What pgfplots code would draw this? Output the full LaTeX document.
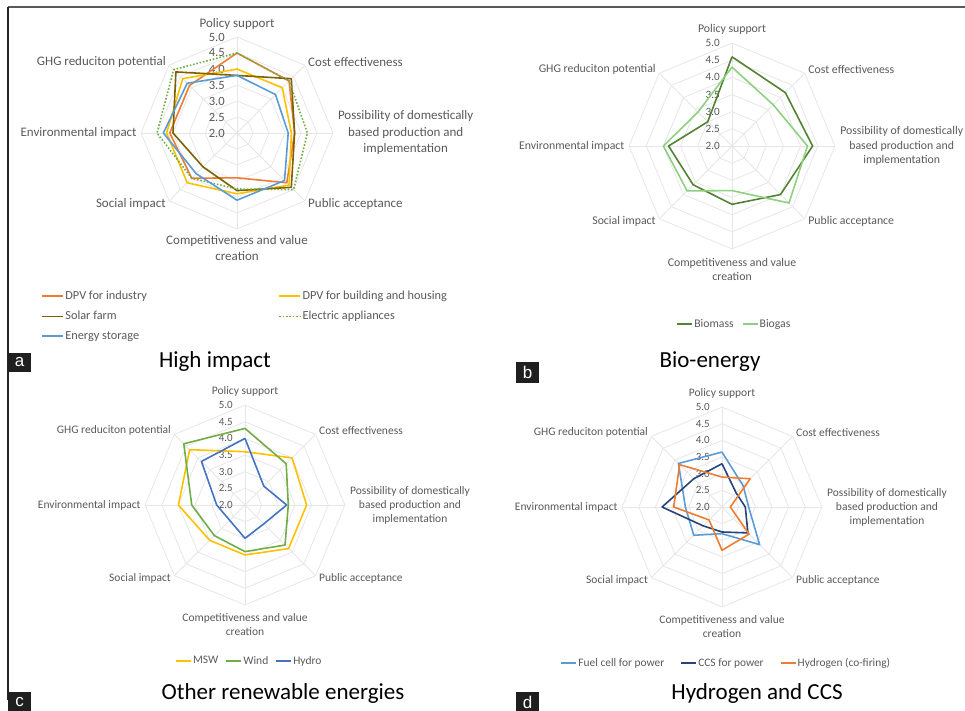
\documentclass[border=0pt]{standalone}
\usepackage{pgfplots}
\pgfplotsset{compat=1.18}
\usepackage{pgfplotstable}
\usepackage{fontspec}
\setmainfont{Carlito}
\newfontfamily\tagfont{Liberation Sans}

\definecolor{gridc}{HTML}{E6E6E6}
\definecolor{labc}{HTML}{595959}
\definecolor{cOrange}{HTML}{ED7D31}
\definecolor{cGold}{HTML}{FFC000}
\definecolor{cBrown}{HTML}{7F6000}
\definecolor{cGreen}{HTML}{70AD47}
\definecolor{cSky}{HTML}{5B9BD5}
\definecolor{cDkGreen}{HTML}{548235}
\definecolor{cLtGreen}{HTML}{8ED081}
\definecolor{cBlue}{HTML}{4472C4}
\definecolor{cNavy}{HTML}{264478}

% Scores on a 2.0--5.0 scale; angle 90 = Policy support, then clockwise
\pgfplotstableread{
ang   ind  bld  sol  app  sto
90    4.5  4.0  3.8  4.5  3.8
45    4.3  4.0  4.4  4.3  3.7
0     3.8  3.7  3.8  4.2  3.6
-45   4.2  4.3  4.4  4.5  4.1
-90   3.4  3.9  3.8  3.75 4.1
-135  4.0  4.2  3.5  4.0  3.8
-180  4.1  4.2  4.0  4.5  4.3
-225  4.1  4.4  4.7  4.8  4.2
-270  4.5  4.0  3.8  4.5  3.8
}\highimpact

\pgfplotstableread{
ang   bm   bg
90    4.6  4.3
45    4.2  3.7
0     4.35 4.2
-45   4.0  4.35
-90   3.7  3.3
-135  3.6  3.85
-180  3.85 4.0
-225  3.0  3.4
-270  4.6  4.3
}\bioenergy

\pgfplotstableread{
ang   msw  wind hydro
90    3.6  4.3  4.0
45    4.0  3.75 2.8
0     3.85 3.3  3.25
-45   3.85 3.7  2.8
-90   3.5  3.4  3.0
-135  3.5  3.3  2.65
-180  4.0  3.6  2.85
-225  4.35 4.6  3.85
-270  3.6  4.3  4.0
}\otherren

\pgfplotstableread{
ang   fc   ccs  hy
90    3.65 3.3  2.9
45    2.9  2.6  3.2
0     2.8  2.7  2.25
-45   3.6  3.1  3.15
-90   2.8  2.75 3.3
-135  3.2  2.8  2.55
-180  3.1  3.8  3.45
-225  3.85 3.2  3.8
-270  3.65 3.3  2.9
}\hydrogen

% spoke directions of the radar (unit radius)
\pgfplotstableread{
ang   unit
90    1
45    1
0     1
-45   1
-90   1
-135  1
-180  1
-225  1
-270  1
}\octagon

% radius 0 is the 2.0 ring; each series is mapped from (angle, score)
\pgfplotsset{
  radar/.style={anchor=center, hide axis, clip=false,
    xmin=-3, xmax=3, ymin=-3, ymax=3,
    legend cell align=left},
  gridline/.style={draw=gridc, line width=0.8pt, forget plot, mark=none},
  series/.style={line width=1.6pt, mark=none, line join=round},
}
\tikzset{
  ticklab/.style={anchor=east, inner sep=0pt, xshift=-12pt, text=labc},
  catlab/.style={inner sep=0pt, text=labc, align=center},
}
% plot column #3 of table #2 as a closed radar polygon
\newcommand{\radarplot}[3][]{%
  \addplot[series, #1] table[x expr={(\thisrow{#3}-2)*cos(\thisrow{ang})}, y expr={(\thisrow{#3}-2)*sin(\thisrow{ang})}] {#2};}

% radar grid, tick labels and category labels
% #1 label size, #2 label baselineskip, #3 tick label size
\newcommand{\radarbase}[3]{%
  \pgfplotsinvokeforeach{0.5,1,1.5,2,2.5,3}{%
    \addplot[gridline] table[x expr={##1*\thisrow{unit}*cos(\thisrow{ang})}, y expr={##1*\thisrow{unit}*sin(\thisrow{ang})}] {\octagon};}
  \addplot[gridline] coordinates {(0,3) (0,-3)};
  \addplot[gridline] coordinates {(-3,0) (3,0)};
  \addplot[gridline] coordinates {(-2.1213,-2.1213) (2.1213,2.1213)};
  \addplot[gridline] coordinates {(-2.1213,2.1213) (2.1213,-2.1213)};
  \node[ticklab, font=\fontsize{#3}{#3}\selectfont] at (axis cs:0,0) {2.0};
  \node[ticklab, font=\fontsize{#3}{#3}\selectfont] at (axis cs:0,0.5) {2.5};
  \node[ticklab, font=\fontsize{#3}{#3}\selectfont] at (axis cs:0,1) {3.0};
  \node[ticklab, font=\fontsize{#3}{#3}\selectfont] at (axis cs:0,1.5) {3.5};
  \node[ticklab, font=\fontsize{#3}{#3}\selectfont] at (axis cs:0,2) {4.0};
  \node[ticklab, font=\fontsize{#3}{#3}\selectfont] at (axis cs:0,2.5) {4.5};
  \node[ticklab, font=\fontsize{#3}{#3}\selectfont] at (axis cs:0,3) {5.0};
  \node[catlab, font=\fontsize{#1}{#2}\selectfont] at (axis cs:0,3.4) {Policy support};
  \node[catlab, anchor=west, font=\fontsize{#1}{#2}\selectfont] at (axis cs:2.22,2.23) {Cost effectiveness};
  \node[catlab, anchor=west, font=\fontsize{#1}{#2}\selectfont] at (axis cs:3.15,0) {Possibility of domestically\\based production and\\implementation};
  \node[catlab, anchor=west, font=\fontsize{#1}{#2}\selectfont] at (axis cs:2.22,-2.21) {Public acceptance};
  \node[catlab, font=\fontsize{#1}{#2}\selectfont] at (axis cs:0,-3.6) {Competitiveness and value\\creation};
  \node[catlab, anchor=east, font=\fontsize{#1}{#2}\selectfont] at (axis cs:-2.22,-2.21) {Social impact};
  \node[catlab, anchor=east, font=\fontsize{#1}{#2}\selectfont] at (axis cs:-3.13,0) {Environmental impact};
  \node[catlab, anchor=east, font=\fontsize{#1}{#2}\selectfont] at (axis cs:-2.22,2.23) {GHG reduciton potential};
}

\begin{document}
\begin{tikzpicture}[x=1pt,y=1pt]
\path[use as bounding box] (0pt,0pt) rectangle (965pt,-710pt);

% frame
\draw[line width=2pt, draw=black!65] (8pt,-7pt) -- (965pt,-7pt);
\draw[line width=2pt, draw=black!85] (8pt,-7pt) -- (8pt,-700pt);

% (a) High impact
\begin{axis}[radar, at={(237pt,-133pt)}, x=32pt, y=32pt,
  legend columns=2,
  legend image code/.code={\draw[#1] (0pt,0pt) -- (21pt,0pt);},
  legend style={draw=none, fill=none, at={(axis description cs:-0.536,-0.305)}, anchor=north west,
    font=\fontsize{12.3}{14}\selectfont, text=labc, row sep=7pt,
    nodes={inner sep=1.5pt},
    /tikz/every even column/.append style={column sep=130pt}}]
  \radarbase{13}{16.5}{12.6}
  \radarplot[cOrange, forget plot]{\highimpact}{ind}
  \radarplot[cGold, forget plot]{\highimpact}{bld}
  \radarplot[cBrown, forget plot]{\highimpact}{sol}
  \radarplot[cGreen, dash pattern=on 1.6pt off 1.8pt, forget plot]{\highimpact}{app}
  \radarplot[cSky, forget plot]{\highimpact}{sto}
  \addlegendimage{draw=cOrange, line width=1.6pt}
  \addlegendentry{DPV for industry}
  \addlegendimage{draw=cGold, line width=1.6pt}
  \addlegendentry{DPV for building and housing}
  \addlegendimage{draw=cBrown, line width=1.6pt}
  \addlegendentry{Solar farm}
  \addlegendimage{draw=cGreen, line width=1.6pt, dash pattern=on 1.6pt off 1.8pt}
  \addlegendentry{Electric appliances}
  \addlegendimage{draw=cSky, line width=1.6pt}
  \addlegendentry{Energy storage}
\end{axis}

% (b) Bio-energy
\begin{axis}[radar, at={(732pt,-146pt)}, x=34.3pt, y=34.3pt,
  legend columns=-1,
  legend image code/.code={\draw[#1] (0pt,0pt) -- (15pt,0pt);},
  legend style={draw=none, fill=none, at={(axis description cs:0.51,-0.364)}, anchor=center,
    font=\fontsize{11.7}{14}\selectfont, text=labc,
    nodes={inner sep=1.2pt},
    /tikz/every even column/.append style={column sep=7pt}}]
  \radarbase{11.8}{14.5}{11.2}
  \radarplot[cDkGreen]{\bioenergy}{bm}
  \addlegendentry{Biomass}
  \radarplot[cLtGreen]{\bioenergy}{bg}
  \addlegendentry{Biogas}
\end{axis}

% (c) Other renewable energies
\begin{axis}[radar, at={(245pt,-505pt)}, x=33.3pt, y=33.3pt,
  legend columns=-1,
  legend image code/.code={\draw[#1] (0pt,0pt) -- (15pt,0pt);},
  legend style={draw=none, fill=none, at={(axis description cs:0.52,-0.28)}, anchor=center,
    font=\fontsize{11.5}{14}\selectfont, text=labc,
    nodes={inner sep=1.2pt},
    /tikz/every even column/.append style={column sep=6pt}}]
  \radarbase{11.5}{14}{11}
  \radarplot[cGold]{\otherren}{msw}
  \addlegendentry{MSW}
  \radarplot[cGreen]{\otherren}{wind}
  \addlegendentry{Wind}
  \radarplot[cBlue]{\otherren}{hydro}
  \addlegendentry{Hydro}
\end{axis}

% (d) Hydrogen and CCS
\begin{axis}[radar, at={(722pt,-507pt)}, x=33.3pt, y=33.3pt,
  legend columns=-1,
  legend image code/.code={\draw[#1] (0pt,0pt) -- (15pt,0pt);},
  legend style={draw=none, fill=none, at={(axis description cs:0.52,-0.28)}, anchor=center,
    font=\fontsize{11.4}{14}\selectfont, text=labc,
    nodes={inner sep=1.2pt},
    /tikz/every even column/.append style={column sep=15pt}}]
  \radarbase{11.5}{14}{11}
  \radarplot[cSky]{\hydrogen}{fc}
  \addlegendentry{Fuel cell for power}
  \radarplot[cNavy]{\hydrogen}{ccs}
  \addlegendentry{CCS for power}
  \radarplot[cOrange]{\hydrogen}{hy}
  \addlegendentry{Hydrogen (co-firing)}
\end{axis}

% panel titles
\node[font=\fontsize{23}{27}\selectfont] at (215pt,-361pt) {High impact};
\node[font=\fontsize{23}{27}\selectfont] at (710pt,-362pt) {Bio-energy};
\node[font=\fontsize{23}{27}\selectfont] at (283pt,-693pt) {Other renewable energies};
\node[font=\fontsize{23}{27}\selectfont] at (757pt,-693pt) {Hydrogen and CCS};

% panel tags
\node[fill=black!88, text=white, font=\tagfont\fontsize{17}{17}\selectfont, minimum width=23pt, minimum height=19pt, inner sep=0pt] at (19.5pt,-362pt) {a};
\node[fill=black!88, text=white, font=\tagfont\fontsize{17}{17}\selectfont, minimum width=23pt, minimum height=21pt, inner sep=0pt] at (527.5pt,-372pt) {b};
\node[fill=black!88, text=white, font=\tagfont\fontsize{17}{17}\selectfont, minimum width=23pt, minimum height=20pt, inner sep=0pt] at (19.5pt,-702pt) {c};
\node[fill=black!88, text=white, font=\tagfont\fontsize{17}{17}\selectfont, minimum width=23pt, minimum height=20pt, inner sep=0pt] at (527.5pt,-702pt) {d};
\end{tikzpicture}
\end{document}
